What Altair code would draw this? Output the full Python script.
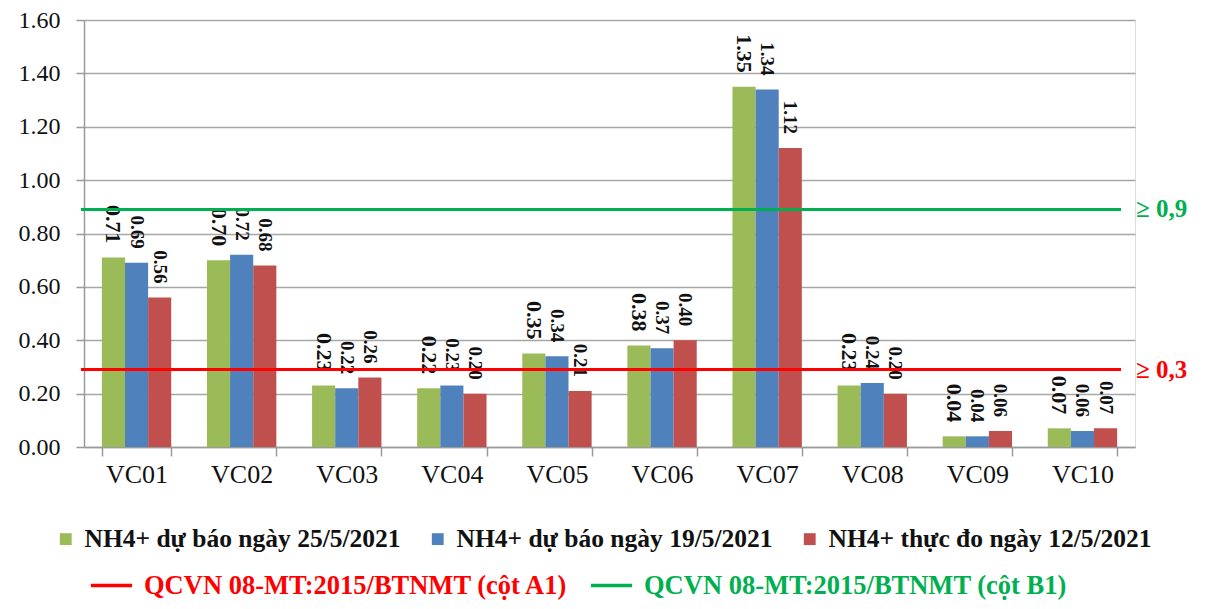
import altair as alt
import pandas as pd

stations = ["VC01", "VC02", "VC03", "VC04", "VC05", "VC06", "VC07", "VC08", "VC09", "VC10"]
series_names = [
    "NH4+ dự báo ngày 25/5/2021",
    "NH4+ dự báo ngày 19/5/2021",
    "NH4+ thực đo ngày 12/5/2021",
]
vals_25 = [0.71, 0.70, 0.23, 0.22, 0.35, 0.38, 1.35, 0.23, 0.04, 0.07]
vals_19 = [0.69, 0.72, 0.22, 0.23, 0.34, 0.37, 1.34, 0.24, 0.04, 0.06]
vals_12 = [0.56, 0.68, 0.26, 0.20, 0.21, 0.40, 1.12, 0.20, 0.06, 0.07]
bar_colors = ["#9BBB59", "#4F81BD", "#C0504D"]
label_sizes = [22, 19, 19]

limit_names = ["QCVN 08-MT:2015/BTNMT (cột A1)", "QCVN 08-MT:2015/BTNMT (cột B1)"]
limit_values = [0.29, 0.89]
limit_texts = ["≥ 0,3", "≥ 0,9"]
limit_colors = ["#FF0000", "#00B050"]

rows = []
for s, vals in zip(series_names, [vals_25, vals_19, vals_12]):
    for st, v in zip(stations, vals):
        rows.append({"station": st, "series": s, "value": v})
df = pd.DataFrame(rows)

lim = pd.DataFrame({"line": limit_names, "value": limit_values,
                    "txt": limit_texts, "col": limit_colors})

FONT = "Liberation Serif"

x_enc = alt.X(
    "station:N",
    sort=stations,
    scale=alt.Scale(paddingInner=0.34, paddingOuter=0.17),
    axis=alt.Axis(title=None, labelAngle=0, labelFont=FONT, labelFontSize=26,
                  labelColor="#111", domainColor="#9a9a9a", domainWidth=1.5,
                  tickColor="#9a9a9a", tickWidth=1.5, tickSize=9, tickBand="extent",
                  labelPadding=5),
)
y_enc = alt.Y(
    "value:Q",
    scale=alt.Scale(domain=[0, 1.6]),
    axis=alt.Axis(title=None, format=".2f", values=[0, 0.2, 0.4, 0.6, 0.8, 1.0, 1.2, 1.4, 1.6],
                  labelFont=FONT, labelFontSize=24, labelColor="#111",
                  domainColor="#9a9a9a", domainWidth=1.5, tickColor="#9a9a9a",
                  tickWidth=1.5, tickSize=8, labelPadding=16,
                  grid=True, gridColor="#a6a6a6", gridWidth=1.5),
)
xoff = alt.XOffset("series:N", sort=series_names,
                   scale=alt.Scale(paddingInner=0, paddingOuter=0))

bars = alt.Chart(df).mark_bar().encode(
    x=x_enc,
    xOffset=xoff,
    y=y_enc,
    color=alt.Color(
        "series:N",
        scale=alt.Scale(domain=series_names, range=bar_colors),
        legend=alt.Legend(
            title=None, orient="none", legendX=-31, legendY=506,
            direction="horizontal", symbolType="square", symbolSize=140,
            symbolStrokeWidth=0, labelFont=FONT, labelFontSize=25.5,
            labelFontWeight="bold", labelColor="#111", labelLimit=700,
            labelOffset=6, columnPadding=24, padding=0,
        ),
    ),
)

label_layers = []
for s, fs in zip(series_names, label_sizes):
    label_layers.append(
        alt.Chart(df).transform_filter(alt.datum.series == s).mark_text(
            angle=90, align="right", baseline="middle", dx=-14,
            font=FONT, fontWeight="bold", color="#111", fontSize=fs,
        ).encode(
            x=alt.X("station:N", sort=stations),
            xOffset=xoff,
            y="value:Q",
            text=alt.Text("value:Q", format=".2f"),
        )
    )

rules = alt.Chart(lim).mark_rule(strokeWidth=3).encode(
    y="value:Q",
    x=alt.value(-3),
    x2=alt.value(1037),
    stroke=alt.Stroke(
        "line:N",
        scale=alt.Scale(domain=limit_names, range=limit_colors),
        legend=alt.Legend(
            title=None, orient="none", legendX=5, legendY=543,
            direction="horizontal", symbolType="stroke", symbolSize=1700,
            symbolStrokeWidth=3.5, labelFont=FONT, labelFontSize=26.5,
            labelFontWeight="bold", labelLimit=700, labelOffset=10,
            columnPadding=14, padding=0,
            labelColor={"expr": "datum.label == '" + limit_names[0] + "' ? '#FF0000' : '#00B050'"},
        ),
    ),
)

limit_text = alt.Chart(lim).mark_text(
    align="left", baseline="middle", font=FONT, fontSize=25, fontWeight="bold",
).encode(
    y="value:Q",
    x=alt.value(1052),
    text="txt:N",
    fill=alt.Fill("col:N", scale=None),
)

chart = alt.layer(bars, *label_layers, rules, limit_text).properties(
    width=1051, height=427,
    padding={"left": 76, "top": 12, "right": 70, "bottom": 154},
    autosize=alt.AutoSizeParams(type="none"),
).configure_view(stroke=None).configure(background="white").configure_axis(
    labelFont=FONT
).configure_legend(labelFont=FONT)

chart.save("out.html", embed_options={"renderer": "svg", "actions": False})
